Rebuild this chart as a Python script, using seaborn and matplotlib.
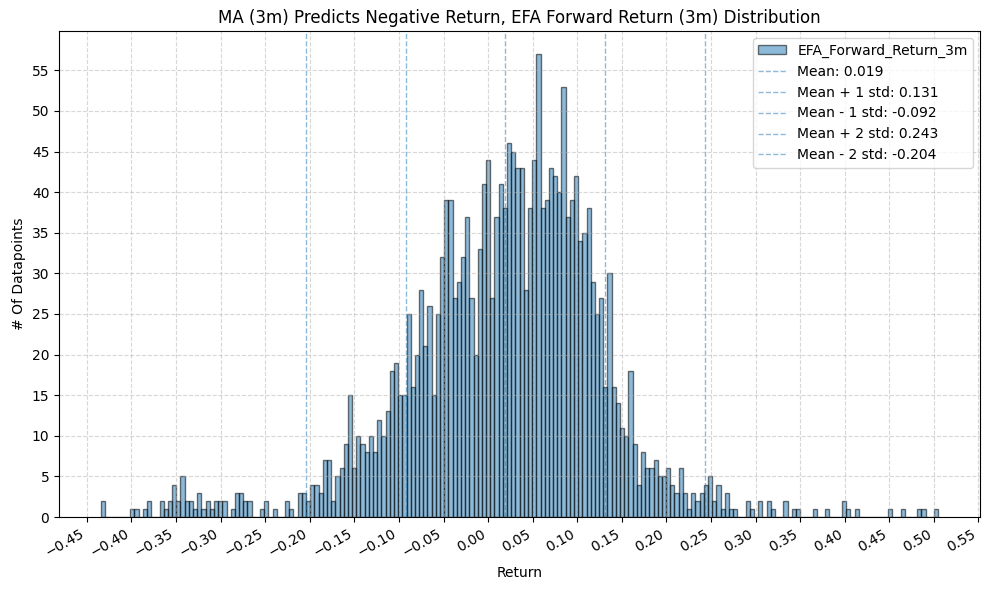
import numpy as np
import pandas as pd
import matplotlib
matplotlib.use('Agg')
import matplotlib.pyplot as plt
import seaborn as sns
from matplotlib.ticker import MultipleLocator

# bin counts (200 equal-width bins)
counts = [
    2, 0, 0, 0, 0, 0, 0, 1, 1, 0,
    1, 2, 0, 0, 2, 1, 2, 4, 2, 5,
    2, 2, 1, 3, 1, 2, 1, 2, 2, 2,
    0, 1, 3, 3, 2, 2, 0, 0, 1, 2,
    0, 1, 0, 0, 2, 1, 0, 3, 3, 2,
    4, 4, 3, 7, 7, 2, 5, 6, 9, 15,
    6, 10, 9, 8, 10, 8, 12, 10, 13, 18,
    19, 15, 15, 25, 16, 20, 28, 21, 26, 15,
    25, 32, 39, 39, 27, 29, 32, 37, 27, 20,
    33, 41, 44, 27, 37, 41, 38, 46, 45, 43,
    43, 28, 38, 44, 57, 38, 39, 43, 42, 40,
    53, 37, 39, 42, 34, 35, 38, 29, 25, 27,
    16, 30, 16, 14, 11, 10, 18, 9, 4, 8,
    6, 6, 7, 5, 5, 6, 4, 3, 6, 3,
    1, 3, 2, 3, 4, 5, 2, 4, 1, 3,
    1, 1, 0, 0, 2, 1, 0, 2, 0, 2,
    1, 0, 0, 2, 0, 1, 1, 0, 0, 0,
    1, 0, 0, 1, 0, 0, 0, 2, 1, 0,
    1, 0, 0, 0, 0, 0, 0, 0, 1, 0,
    0, 1, 0, 0, 0, 1, 1, 0, 0, 1,
]
ret_min = -0.4343
ret_max = 0.5049

mean = 0.0194
std = 0.1118

col = 'EFA_Forward_Return_3m'
edges = np.linspace(ret_min, ret_max, len(counts) + 1)
centers = (edges[:-1] + edges[1:]) / 2
df = pd.DataFrame({col: np.repeat(centers, counts)})

fig, ax = plt.subplots(figsize=(9.89, 5.9), dpi=100)
sns.histplot(data=df, x=col, bins=edges, color='tab:blue', alpha=0.5,
             edgecolor=(0, 0, 0, 0.55), linewidth=1, label=col, ax=ax)

lines = [
    (mean, f'Mean: {mean:.3f}'),
    (mean + std, f'Mean + 1 std: {mean + std:.3f}'),
    (mean - std, f'Mean - 1 std: {mean - std:.3f}'),
    (mean + 2 * std, f'Mean + 2 std: {mean + 2 * std:.3f}'),
    (mean - 2 * std, f'Mean - 2 std: {mean - 2 * std:.3f}'),
]
for val, lab in lines:
    ax.axvline(val, color='tab:blue', linestyle='--', linewidth=1, alpha=0.5, label=lab)

ax.xaxis.set_major_locator(MultipleLocator(0.05))
ax.yaxis.set_major_locator(MultipleLocator(5))
ax.grid(True, linestyle='--', alpha=0.5)
ax.set_title('MA (3m) Predicts Negative Return, EFA Forward Return (3m) Distribution')
ax.set_xlabel('Return')
ax.set_ylabel('# Of Datapoints')

# histogram entry first, then the mean/std lines
handles, labels = ax.get_legend_handles_labels()
order = [labels.index(col)] + [i for i, l in enumerate(labels) if l != col]
ax.legend([handles[i] for i in order], [labels[i] for i in order], loc='upper right')

plt.setp(ax.get_xticklabels(), rotation=30, ha='right')
fig.subplots_adjust(left=0.0597, right=0.991, top=0.9475, bottom=0.1237)
plt.savefig('out.png')
